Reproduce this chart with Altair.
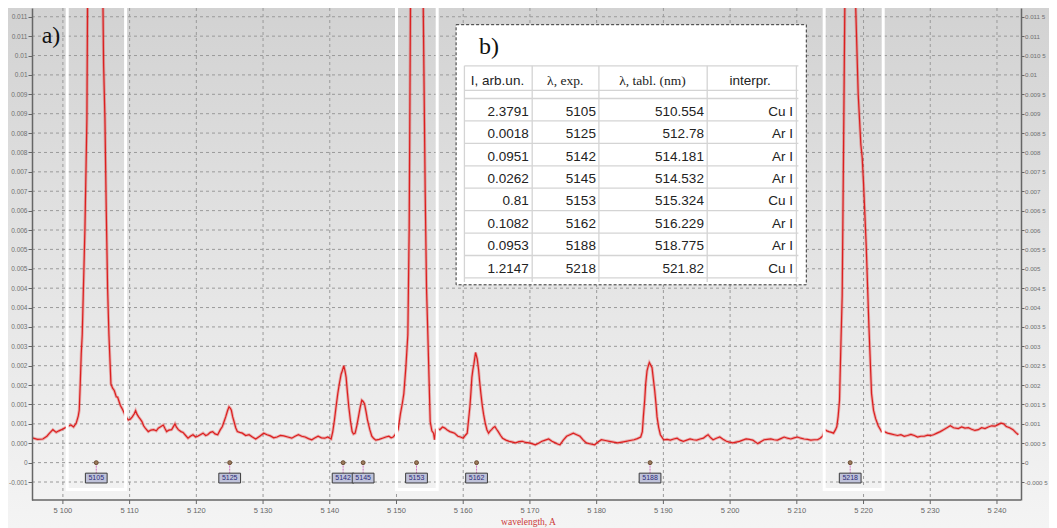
import json
import altair as alt
import pandas as pd

# ---------------- data ----------------
wavelength = [
    5095.4, 5096.2, 5097.0, 5097.6, 5098.0, 5098.5, 5099.0, 5099.4, 5099.8, 5100.25,
    5100.8, 5101.2, 5101.6, 5102.0, 5102.3, 5102.45, 5102.6, 5102.75, 5102.9, 5103.3,
    5103.6, 5103.7, 5104.3, 5105.0, 5105.6, 5106.0, 5106.1, 5106.3, 5106.5, 5106.7,
    5106.9, 5107.2, 5107.45, 5107.7, 5108.0, 5108.2, 5108.6, 5108.85, 5109.1, 5109.4,
    5109.8, 5110.1, 5110.4, 5110.7, 5110.9, 5111.1, 5111.35, 5111.6, 5111.85, 5112.1,
    5112.35, 5112.8, 5113.2, 5113.6, 5114.0, 5114.3, 5114.7, 5115.05, 5115.3, 5115.55,
    5115.9, 5116.3, 5116.8, 5117.0, 5117.3, 5117.7, 5118.0, 5118.4, 5118.75, 5119.1,
    5119.5, 5119.9, 5120.2, 5120.6, 5121.0, 5121.4, 5121.7, 5122.1, 5122.45, 5122.8,
    5123.2, 5123.6, 5123.9, 5124.2, 5124.4, 5124.7, 5124.9, 5125.1, 5125.25, 5125.45,
    5125.65, 5125.9, 5126.15, 5126.5, 5126.9, 5127.4, 5127.9, 5128.4, 5128.9, 5129.5,
    5130.1, 5130.6, 5131.1, 5131.6, 5132.1, 5132.6, 5133.1, 5133.7, 5134.3, 5134.8,
    5135.3, 5135.8, 5136.3, 5136.8, 5137.3, 5137.8, 5138.25, 5138.75, 5139.25, 5139.7,
    5140.2, 5140.45, 5140.7, 5140.95, 5141.2, 5141.45, 5141.7, 5141.9, 5142.1, 5142.3,
    5142.45, 5142.65, 5142.85, 5143.1, 5143.35, 5143.55, 5143.8, 5144.05, 5144.3, 5144.55,
    5144.8, 5145.0, 5145.2, 5145.45, 5145.65, 5146.0, 5146.3, 5146.6, 5146.9, 5147.4,
    5147.9, 5148.4, 5148.85, 5149.2, 5149.5, 5149.8, 5150.25, 5150.6, 5150.85, 5151.1,
    5151.4, 5151.7, 5151.9, 5152.1, 5152.6, 5153.1, 5153.6, 5154.0, 5154.3, 5154.5,
    5154.7, 5154.9, 5155.05, 5155.3, 5155.55, 5155.7, 5155.9, 5156.2, 5156.5, 5156.9,
    5157.25, 5157.6, 5158.0, 5158.35, 5158.7, 5159.2, 5159.6, 5160.0, 5160.3, 5160.6,
    5160.8, 5161.0, 5161.15, 5161.3, 5161.45, 5161.6, 5161.85, 5162.1, 5162.3, 5162.45,
    5162.65, 5162.85, 5163.05, 5163.3, 5163.55, 5163.8, 5164.05, 5164.25, 5164.5, 5164.75,
    5165.0, 5165.25, 5165.6, 5165.9, 5166.4, 5166.9, 5167.4, 5167.85, 5168.35, 5168.85,
    5169.35, 5169.85, 5170.3, 5170.8, 5171.3, 5171.8, 5172.3, 5172.8, 5173.3, 5173.8,
    5174.15, 5174.5, 5175.0, 5175.5, 5176.0, 5176.5, 5177.0, 5177.5, 5178.0, 5178.45,
    5179.1, 5179.7, 5180.2, 5180.7, 5181.3, 5181.9, 5182.5, 5183.15, 5183.8, 5184.4,
    5185.0, 5185.6, 5186.1, 5186.6, 5186.85, 5187.0, 5187.2, 5187.35, 5187.55, 5187.75,
    5187.9, 5188.1, 5188.3, 5188.5, 5188.7, 5188.9, 5189.05, 5189.3, 5189.55, 5190.05,
    5190.55, 5191.05, 5191.55, 5192.05, 5192.5, 5193.0, 5193.5, 5194.0, 5194.5, 5195.0,
    5195.5, 5196.0, 5196.35, 5196.7, 5197.1, 5197.45, 5197.95, 5198.45, 5198.95, 5199.45,
    5199.9, 5200.4, 5200.9, 5201.4, 5201.9, 5202.4, 5202.9, 5203.4, 5203.8, 5204.15,
    5204.6, 5205.1, 5205.6, 5206.1, 5206.6, 5207.1, 5207.6, 5208.1, 5208.6, 5209.1,
    5209.6, 5210.1, 5210.6, 5211.1, 5211.6, 5212.1, 5212.6, 5213.1, 5213.5, 5213.85,
    5214.2, 5214.5, 5214.8, 5215.2, 5215.5, 5215.8, 5216.0, 5216.2, 5216.4, 5216.6,
    5216.8, 5217.0, 5217.2, 5217.7, 5218.2, 5218.5, 5218.8, 5219.2, 5219.6, 5219.8,
    5220.0, 5220.4, 5220.8, 5221.2, 5221.5, 5221.8, 5222.2, 5222.7, 5223.1, 5223.6,
    5224.1, 5224.6, 5225.1, 5225.6, 5226.1, 5226.6, 5227.1, 5227.6, 5228.1, 5228.6,
    5229.1, 5229.6, 5230.1, 5230.5, 5231.0, 5231.5, 5232.0, 5232.5, 5233.0, 5233.5,
    5234.2, 5234.7, 5235.2, 5235.7, 5236.2, 5236.7, 5237.2, 5237.7, 5238.2, 5238.7,
    5239.2, 5239.7, 5240.15, 5240.6, 5241.0, 5241.4, 5241.9, 5242.4, 5242.8, 5243.2,
]
intensity = [
    0.00064, 0.00060, 0.00061, 0.00068, 0.00076, 0.00085, 0.00078, 0.00082, 0.00085, 0.00089,
    0.00094, 0.00097, 0.00092, 0.00102, 0.00120, 0.00135, 0.00203, 0.00280, 0.00330, 0.00600,
    0.00888, 0.01190, 0.02500, 0.03500, 0.02500, 0.01190, 0.01028, 0.00888, 0.00650, 0.00450,
    0.00330, 0.00203, 0.00192, 0.00186, 0.00170, 0.00169, 0.00148, 0.00140, 0.00131, 0.00120,
    0.00110, 0.00112, 0.00118, 0.00126, 0.00134, 0.00125, 0.00118, 0.00112, 0.00106, 0.00095,
    0.00089, 0.00080, 0.00084, 0.00085, 0.00082, 0.00089, 0.00093, 0.00097, 0.00088, 0.00080,
    0.00084, 0.00085, 0.00100, 0.00092, 0.00085, 0.00080, 0.00078, 0.00070, 0.00063, 0.00068,
    0.00072, 0.00066, 0.00068, 0.00072, 0.00076, 0.00070, 0.00072, 0.00078, 0.00080, 0.00074,
    0.00072, 0.00085, 0.00093, 0.00108, 0.00118, 0.00135, 0.00144, 0.00140, 0.00135, 0.00118,
    0.00106, 0.00090, 0.00080, 0.00078, 0.00076, 0.00070, 0.00072, 0.00066, 0.00061, 0.00068,
    0.00076, 0.00072, 0.00069, 0.00064, 0.00066, 0.00070, 0.00069, 0.00066, 0.00063, 0.00068,
    0.00072, 0.00068, 0.00066, 0.00062, 0.00059, 0.00064, 0.00068, 0.00064, 0.00063, 0.00066,
    0.00061, 0.00080, 0.00110, 0.00145, 0.00178, 0.00205, 0.00228, 0.00238, 0.00250, 0.00235,
    0.00220, 0.00180, 0.00144, 0.00108, 0.00080, 0.00074, 0.00076, 0.00095, 0.00118, 0.00142,
    0.00161, 0.00158, 0.00152, 0.00130, 0.00110, 0.00085, 0.00068, 0.00062, 0.00058, 0.00060,
    0.00063, 0.00066, 0.00068, 0.00064, 0.00066, 0.00072, 0.00085, 0.00127, 0.00150, 0.00178,
    0.00245, 0.00330, 0.00600, 0.01190, 0.02200, 0.02800, 0.02200, 0.01190, 0.00700, 0.00450,
    0.00330, 0.00203, 0.00106, 0.00082, 0.00076, 0.00059, 0.00085, 0.00088, 0.00085, 0.00092,
    0.00089, 0.00084, 0.00080, 0.00078, 0.00076, 0.00068, 0.00066, 0.00063, 0.00070, 0.00076,
    0.00110, 0.00144, 0.00180, 0.00220, 0.00240, 0.00254, 0.00284, 0.00267, 0.00240, 0.00211,
    0.00178, 0.00148, 0.00125, 0.00102, 0.00085, 0.00076, 0.00082, 0.00085, 0.00090, 0.00093,
    0.00086, 0.00080, 0.00070, 0.00063, 0.00058, 0.00055, 0.00053, 0.00051, 0.00054, 0.00055,
    0.00052, 0.00051, 0.00049, 0.00046, 0.00050, 0.00055, 0.00058, 0.00061, 0.00055, 0.00051,
    0.00048, 0.00046, 0.00058, 0.00068, 0.00072, 0.00076, 0.00072, 0.00068, 0.00058, 0.00051,
    0.00048, 0.00046, 0.00053, 0.00059, 0.00057, 0.00055, 0.00053, 0.00051, 0.00053, 0.00055,
    0.00057, 0.00059, 0.00062, 0.00066, 0.00080, 0.00118, 0.00161, 0.00203, 0.00237, 0.00250,
    0.00258, 0.00252, 0.00245, 0.00215, 0.00186, 0.00150, 0.00118, 0.00090, 0.00072, 0.00059,
    0.00060, 0.00058, 0.00061, 0.00063, 0.00058, 0.00055, 0.00058, 0.00061, 0.00059, 0.00058,
    0.00061, 0.00063, 0.00068, 0.00072, 0.00064, 0.00059, 0.00063, 0.00066, 0.00060, 0.00055,
    0.00053, 0.00051, 0.00053, 0.00055, 0.00058, 0.00061, 0.00060, 0.00058, 0.00053, 0.00049,
    0.00054, 0.00059, 0.00060, 0.00061, 0.00059, 0.00058, 0.00062, 0.00066, 0.00063, 0.00061,
    0.00064, 0.00066, 0.00063, 0.00061, 0.00060, 0.00058, 0.00059, 0.00059, 0.00063, 0.00068,
    0.00085, 0.00082, 0.00080, 0.00078, 0.00076, 0.00085, 0.00093, 0.00120, 0.00161, 0.00300,
    0.00430, 0.00800, 0.01190, 0.02000, 0.02400, 0.01800, 0.01190, 0.00950, 0.00820, 0.00787,
    0.00720, 0.00560, 0.00355, 0.00178, 0.00135, 0.00114, 0.00095, 0.00080, 0.00080, 0.00076,
    0.00074, 0.00072, 0.00070, 0.00072, 0.00068, 0.00070, 0.00073, 0.00070, 0.00066, 0.00068,
    0.00068, 0.00071, 0.00070, 0.00072, 0.00076, 0.00080, 0.00085, 0.00090, 0.00095, 0.00090,
    0.00088, 0.00092, 0.00089, 0.00090, 0.00086, 0.00083, 0.00085, 0.00090, 0.00088, 0.00092,
    0.00095, 0.00094, 0.00098, 0.00102, 0.00100, 0.00093, 0.00090, 0.00085, 0.00078, 0.00072,
]

peak_positions = [5105, 5125, 5142, 5145, 5153, 5162, 5188, 5218]
peak_labels = ["5105", "5125", "5142", "5145", "5153", "5162", "5188", "5218"]

sat_left = [5100.65, 5150.0, 5214.1]
sat_right = [5109.4, 5156.1, 5222.95]

x_ticks = [5100, 5110, 5120, 5130, 5140, 5150, 5160, 5170, 5180, 5190, 5200, 5210, 5220, 5230, 5240]
x_tick_labels = ["5 100", "5 110", "5 120", "5 130", "5 140", "5 150", "5 160", "5 170",
                 "5 180", "5 190", "5 200", "5 210", "5 220", "5 230", "5 240"]
x_title = "wavelength, A"

y_ticks = [-0.0005, 0.0, 0.0005, 0.001, 0.0015, 0.002, 0.0025, 0.003, 0.0035, 0.004, 0.0045,
           0.005, 0.0055, 0.006, 0.0065, 0.007, 0.0075, 0.008, 0.0085, 0.009, 0.0095, 0.01,
           0.0105, 0.011, 0.0115]
y_left_labels = ["-0.001", "0", "0.000", "0.001", "0.001", "0.002", "0.002", "0.003", "0.003",
                 "0.004", "0.004", "0.005", "0.005", "0.006", "0.006", "0.007", "0.007", "0.008",
                 "0.008", "0.009", "0.009", "0.01", "0.01", "0.011", "0.011"]
y_right_labels = ["-0.000 5", "0", "0.000 5", "0.001", "0.001 5", "0.002", "0.002 5", "0.003",
                  "0.003 5", "0.004", "0.004 5", "0.005", "0.005 5", "0.006", "0.006 5", "0.007",
                  "0.007 5", "0.008", "0.008 5", "0.009", "0.009 5", "0.01", "0.010 5", "0.011",
                  "0.011 5"]

tbl_headers = ["I, arb.un.", "λ, exp.", "λ, tabl. (nm)", "interpr."]
tbl_intensity = ["2.3791", "0.0018", "0.0951", "0.0262", "0.81", "0.1082", "0.0953", "1.2147"]
tbl_exp = ["5105", "5125", "5142", "5145", "5153", "5162", "5188", "5218"]
tbl_tabl = ["510.554", "512.78", "514.181", "514.532", "515.324", "516.229", "518.775", "521.82"]
tbl_interp = ["Cu I", "Ar I", "Ar I", "Ar I", "Cu I", "Ar I", "Ar I", "Cu I"]

# ---------------- layout ----------------
W, H = 989, 492
XDOM = [5095.37, 5243.6]
YDOM = [-0.000964, 0.011726]
xs = alt.Scale(domain=XDOM, nice=False, zero=False)
ys = alt.Scale(domain=YDOM, nice=False, zero=False)

TICK_FONT = "Liberation Sans"
RED = "#dc1f1f"
AXIS_GRAY = "#666666"

# table layout (pixels inside plot)
TB_X0, TB_X1, TB_Y0, TB_Y1 = 424.1, 774.3, 16.7, 276.8
COL_EDGES = [432.4, 500.2, 566.9, 675.2, 764.4]
COL_RIGHT = [496.8, 563.9, 671.9, 761.1]
HEAD_CX = [465.5, 533.2, 620.4, 718.2]
HEAD_Y = 72.5
ROW0, ROWH = 90.5, 22.43
HLINES = [57.8, 82.4] + [ROW0 + k * ROWH for k in range(9)]

# ---------------- layers ----------------
one = pd.DataFrame({"k": [0]})

bg = alt.Chart(one).mark_rect(
    clip=False,
    fill=alt.LinearGradient(
        gradient="linear",
        stops=[alt.GradientStop(color="#d2d2d2", offset=0),
               alt.GradientStop(color="#e4e4e4", offset=0.5),
               alt.GradientStop(color="#f4f4f4", offset=1)],
        x1=0, x2=0, y1=0, y2=1),
).encode(x=alt.value(-24), x2=alt.value(W + 28), y=alt.value(0), y2=alt.value(H + 28))

hgrid = alt.Chart(pd.DataFrame({"v": y_ticks})).mark_rule(
    stroke="#9a9a9a", strokeDash=[3, 3], strokeWidth=1
).encode(y=alt.Y("v:Q", scale=ys, axis=None), x=alt.value(0), x2=alt.value(W))

xt = pd.DataFrame({"u": x_ticks, "lab": x_tick_labels})
vgrid = alt.Chart(xt).mark_rule(
    stroke="#9a9a9a", strokeDash=[3, 3], strokeWidth=1
).encode(x=alt.X("u:Q", scale=xs, axis=None), y=alt.value(0), y2=alt.value(H))

# bottom axis drawn from the tick arrays
x_domain = alt.Chart(one).mark_rule(stroke=AXIS_GRAY, strokeWidth=1.5).encode(
    x=alt.value(0), x2=alt.value(W), y=alt.value(H))
x_tick_marks = alt.Chart(xt).mark_rule(stroke=AXIS_GRAY, strokeWidth=1).encode(
    x=alt.X("u:Q", scale=xs, axis=None), y=alt.value(H), y2=alt.value(H + 4))
x_tick_text = alt.Chart(xt).mark_text(
    font=TICK_FONT, fontSize=7.5, color="#666666", baseline="middle", align="center"
).encode(x=alt.X("u:Q", scale=xs, axis=None), y=alt.value(H + 11), text="lab:N")
x_title_text = alt.Chart(pd.DataFrame({"t": [x_title]})).mark_text(
    font="Liberation Serif", fontSize=9.5, color="#cc3a3a", baseline="top", align="center"
).encode(x=alt.value(W / 2 + 2), y=alt.value(H + 17), text="t:N")

spec = pd.DataFrame({"wl": wavelength, "I": intensity})

y_left_axis = alt.Axis(
    orient="left", values=y_ticks, grid=False,
    labelExpr=f"{json.dumps(y_left_labels)}[round((datum.value + 0.0005) / 0.0005)]",
    labelFont=TICK_FONT, labelFontSize=6.5, labelColor="#707070", labelPadding=1, labelOverlap=False,
    labelFlush=False, tickSize=4, tickColor=AXIS_GRAY, domainColor=AXIS_GRAY, domainWidth=1.5,
    title=None, zindex=1,
)
y_right_axis = alt.Axis(
    orient="right", values=y_ticks, grid=False,
    labelExpr=f"{json.dumps(y_right_labels)}[round((datum.value + 0.0005) / 0.0005)]",
    labelFont=TICK_FONT, labelFontSize=6.2, labelColor="#707070", labelPadding=0.5, labelOverlap=False,
    labelFlush=False, tickSize=3, tickColor=AXIS_GRAY, domainColor=AXIS_GRAY, domainWidth=1.5,
    title=None, zindex=1,
)

halo = alt.Chart(spec).mark_line(stroke=RED, strokeWidth=3, opacity=0.3, clip=True).encode(
    x=alt.X("wl:Q", scale=xs, axis=None),
    y=alt.Y("I:Q", scale=ys, axis=y_right_axis),
)
line = alt.Chart(spec).mark_line(stroke=RED, strokeWidth=1.2, clip=True).encode(
    x=alt.X("wl:Q", scale=xs, axis=None),
    y=alt.Y("I:Q", scale=ys, axis=y_left_axis),
)

sat = pd.DataFrame({"l": sat_left, "r": sat_right})
sat_boxes = alt.Chart(sat).mark_rect(
    fillOpacity=0, stroke="white", strokeWidth=3, clip=True
).transform_calculate(top="0.03", bot="-0.00069").encode(
    x=alt.X("l:Q", scale=xs, axis=None), x2="r:Q",
    y=alt.Y("top:Q", scale=ys, axis=None), y2="bot:Q",
)

pk = pd.DataFrame({"u": peak_positions, "lab": peak_labels})
pk_base = alt.Chart(pk).transform_calculate(
    zero="0", btop="-0.000272", bbot="-0.000525", bmid="-0.0004",
    bl="datum.u - 1.63", br="datum.u + 1.63",
)
pk_rule = pk_base.mark_rule(stroke="#d070c0", strokeDash=[2, 1], strokeWidth=1).encode(
    x=alt.X("u:Q", scale=xs, axis=None),
    y=alt.Y("zero:Q", scale=ys, axis=None), y2="btop:Q",
)
pk_dot = pk_base.mark_point(filled=True, color="#9a7a5c", stroke="#5a3a20", strokeWidth=0.8,
                            size=16, opacity=1).encode(
    x=alt.X("u:Q", scale=xs, axis=None),
    y=alt.Y("zero:Q", scale=ys, axis=None),
)
pk_box = pk_base.mark_rect(fill="#bfc2d9", stroke="#3c3c3c", strokeWidth=1).encode(
    x=alt.X("bl:Q", scale=xs, axis=None), x2="br:Q",
    y=alt.Y("btop:Q", scale=ys, axis=None), y2="bbot:Q",
)
pk_text = pk_base.mark_text(font=TICK_FONT, fontSize=7, color="#2c2c7a", baseline="middle").encode(
    x=alt.X("u:Q", scale=xs, axis=None),
    y=alt.Y("bmid:Q", scale=ys, axis=None),
    text="lab:N",
)

# ----- inset table -----
tbox = alt.Chart(one).mark_rect(fill="white", stroke="#333333", strokeDash=[3, 2], strokeWidth=1).encode(
    x=alt.value(TB_X0), x2=alt.value(TB_X1), y=alt.value(TB_Y0), y2=alt.value(TB_Y1)
)
tv = alt.Chart(pd.DataFrame({"lx": COL_EDGES})).mark_rule(stroke="#d4d4d4", strokeWidth=1.3).encode(
    x=alt.X("lx:Q", scale=None, axis=None), y=alt.value(HLINES[0]), y2=alt.value(HLINES[-1] + 4)
)
th = alt.Chart(pd.DataFrame({"ly": HLINES})).mark_rule(stroke="#d4d4d4", strokeWidth=1.3).encode(
    y=alt.Y("ly:Q", scale=None, axis=None), x=alt.value(COL_EDGES[0]), x2=alt.value(COL_EDGES[-1] + 2)
)

rows = pd.DataFrame({"i": list(range(len(tbl_exp))), "c0": tbl_intensity, "c1": tbl_exp,
                     "c2": tbl_tabl, "c3": tbl_interp})
row_base = alt.Chart(rows).transform_calculate(ty=f"{ROW0} + (datum.i + 0.5) * {ROWH} + 2")
cols = []
for ci, xr in enumerate(COL_RIGHT):
    cols.append(row_base.mark_text(align="right", baseline="middle", font="Liberation Sans",
                                   fontSize=13.5, color="#222222").encode(
        x=alt.value(xr), y=alt.Y("ty:Q", scale=None, axis=None), text=f"c{ci}:N"))

hdr = pd.DataFrame({"h": tbl_headers, "hx": HEAD_CX, "serif": [False, True, True, False]})
hdr_sans = alt.Chart(hdr).transform_filter("!datum.serif").mark_text(
    align="center", baseline="middle", font="Liberation Sans", fontSize=13.5, color="#222222"
).encode(x=alt.X("hx:Q", scale=None, axis=None), y=alt.value(HEAD_Y), text="h:N")
hdr_serif = alt.Chart(hdr).transform_filter("datum.serif").mark_text(
    align="center", baseline="middle", font="Liberation Serif", fontSize=13.5, color="#222222"
).encode(x=alt.X("hx:Q", scale=None, axis=None), y=alt.value(HEAD_Y), text="h:N")

lab_a = alt.Chart(pd.DataFrame({"t": ["a)"]})).mark_text(
    font="Liberation Serif", fontSize=24, color="#111111", baseline="middle", align="center"
).encode(x=alt.value(19), y=alt.value(27.6), text="t:N")
lab_b = alt.Chart(pd.DataFrame({"t": ["b)"]})).mark_text(
    font="Liberation Serif", fontSize=24, color="#111111", baseline="middle", align="center"
).encode(x=alt.value(457), y=alt.value(39.4), text="t:N")

chart = alt.layer(
    bg, hgrid, vgrid, halo, line, sat_boxes, pk_rule, pk_box, pk_dot, pk_text,
    x_domain, x_tick_marks, x_tick_text, x_title_text,
    tbox, tv, th, *cols, hdr_sans, hdr_serif, lab_a, lab_b,
).resolve_axis(y="independent").properties(
    width=W, height=H,
    padding={"left": 24, "top": 0, "right": 28, "bottom": 28},
    autosize=alt.AutoSizeParams(type="none"),
    background="#f0f0f0",
).configure_view(strokeWidth=0)

chart.save("out.html", embed_options={"renderer": "svg", "actions": False})
